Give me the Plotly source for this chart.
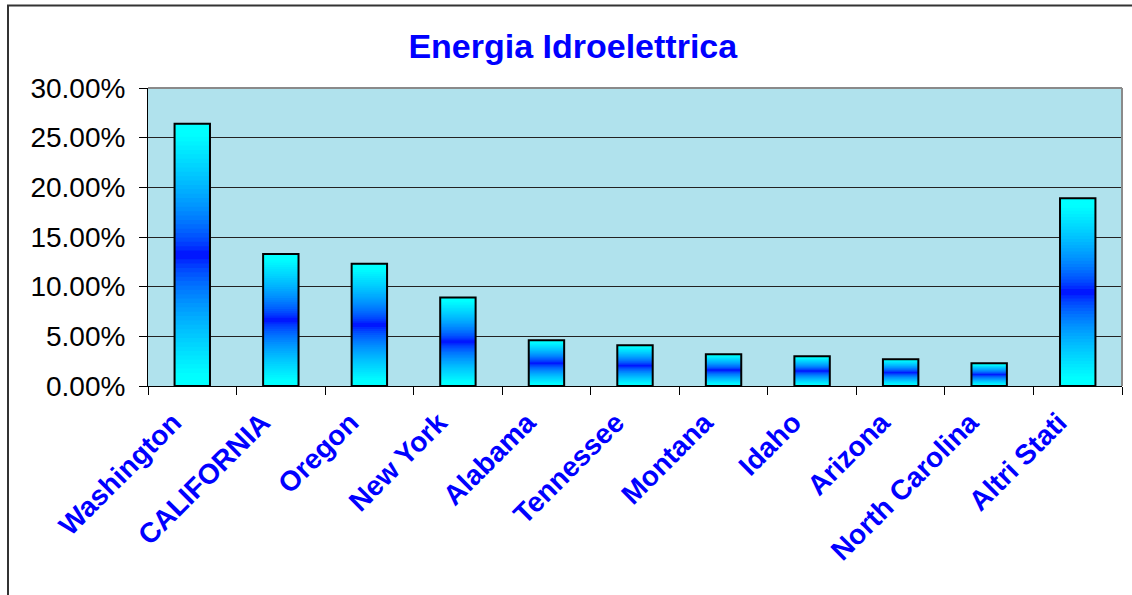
import plotly.graph_objects as go

categories = ["Washington", "CALIFORNIA", "Oregon", "New York", "Alabama", "Tennessee",
              "Montana", "Idaho", "Arizona", "North Carolina", "Altri Stati"]
values = [0.264, 0.133, 0.123, 0.089, 0.046, 0.041, 0.032, 0.030, 0.027, 0.023, 0.189]
y_ticks = [0.0, 0.05, 0.10, 0.15, 0.20, 0.25, 0.30]

N_SEG = 60

fig = go.Figure()

# Gradient bars: cyan at ends, blue in the middle (drawn as overlapping segments)
for k in range(N_SEG):
    t = (k + 0.5) / N_SEG
    d = abs(t - 0.5) * 2
    g = int(round(255 * min(1.0, 1.05 * d ** 0.6)))
    fig.add_trace(go.Bar(
        x=categories,
        y=[v * (1 - k / N_SEG) for v in values],
        base=[v * k / N_SEG for v in values],
        marker=dict(color=f"rgb(0,{g},255)", line=dict(width=0)),
        hoverinfo="skip",
        showlegend=False,
    ))

# Outline
fig.add_trace(go.Bar(
    x=categories,
    y=values,
    marker=dict(color="rgba(0,0,0,0)", line=dict(color="black", width=2)),
    showlegend=False,
    hovertemplate="%{x}: %{y:.2%}<extra></extra>",
))

fig.update_layout(
    width=1132, height=595,
    margin=dict(l=148, r=10, t=88, b=209, autoexpand=False),
    paper_bgcolor="white",
    plot_bgcolor="#b0e2ed",
    barmode="overlay",
    bargap=0.6,
    font=dict(family="Liberation Sans, Arial, sans-serif", color="black"),
    title=dict(
        text="Energia Idroelettrica",
        font=dict(family="Liberation Sans, Arial, sans-serif", size=34, color="#0000ff", weight="bold"),
        x=0.506, xref="container", xanchor="center",
        y=1 - 46 / 595, yref="container", yanchor="middle",
    ),
    xaxis=dict(
        tickangle=-45,
        tickfont=dict(family="Liberation Sans, Arial, sans-serif", size=28, color="#0000ff", weight="bold"),
        ticks="outside", ticklen=8, tickcolor="black", tickwidth=1,
        tickson="boundaries",
        ticklabelstandoff=8,
        ticklabelshift=-19,
        showline=True, linecolor="black", linewidth=1,
        showgrid=False,
    ),
    yaxis=dict(
        range=[0, 0.30],
        tickvals=y_ticks,
        tickformat=".2%",
        tickfont=dict(size=28, color="black"),
        ticks="outside", ticklen=8, tickcolor="black", tickwidth=1,
        ticklabelstandoff=8,
        showline=True, linecolor="black", linewidth=1,
        showgrid=True, gridcolor="#222222", gridwidth=1,
        zeroline=False,
    ),
    shapes=[
        # plot area top/right border (gray)
        dict(type="line", xref="paper", yref="paper", x0=0, x1=1, y0=1, y1=1,
             line=dict(color="#8a8a8a", width=2), layer="above"),
        dict(type="line", xref="paper", yref="paper", x0=1, x1=1, y0=0, y1=1,
             line=dict(color="#8a8a8a", width=2), layer="above"),
        # outer chart frame (top and left edges visible)
        dict(type="rect", xref="paper", yref="paper",
             x0=(8 - 148) / 974, x1=1.2, y0=-1.0, y1=(386 - 5.5) / 298,
             line=dict(color="#333333", width=2), layer="above"),
    ],
)

fig.write_html("out.html")
